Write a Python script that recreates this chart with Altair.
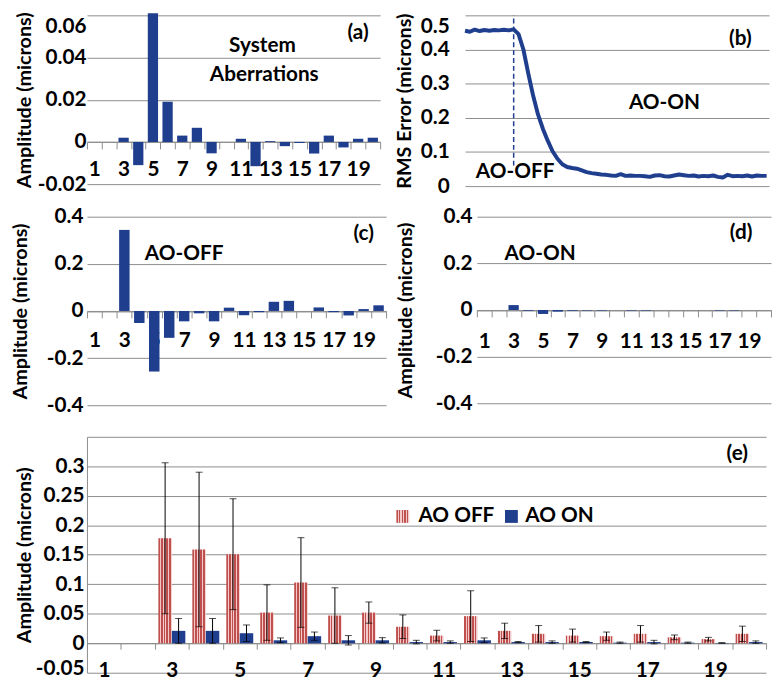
import altair as alt
import pandas as pd

# ---------------- data ----------------
zernike = list(range(1, 21))

# (a) system aberrations, microns
sys_aberr = [0, 0, 0.002, -0.011, 0.061, 0.019, 0.003, 0.0067, -0.0054, 0,
             0.0015, -0.0115, 0.0004, -0.002, -0.0005, -0.0055, 0.003, -0.0026, 0.0015, 0.002]
# (c) AO-OFF single measurement
ao_off_single = [0, 0, 0.344, -0.051, -0.257, -0.114, -0.044, -0.01, -0.044, 0.014,
                 -0.018, -0.005, 0.039, 0.043, 0, 0.015, -0.005, -0.019, 0.008, 0.024]
# (d) AO-ON single measurement
ao_on_single = [0, 0, 0.021, -0.003, -0.017, -0.007, -0.003, -0.002, -0.002, 0,
                -0.002, -0.002, 0, 0, 0, 0, -0.002, -0.002, 0, 0]
# (b) RMS error vs. iteration
rms_error = [0.455, 0.452, 0.458, 0.454, 0.457, 0.455, 0.457, 0.456, 0.458, 0.456,
             0.459, 0.445, 0.400, 0.330, 0.265, 0.210, 0.168, 0.133, 0.102, 0.080,
             0.064, 0.056, 0.053, 0.051, 0.046, 0.041, 0.038, 0.036, 0.034, 0.033,
             0.031, 0.030, 0.035, 0.030, 0.031, 0.030, 0.030, 0.029, 0.027, 0.031,
             0.032, 0.029, 0.028, 0.031, 0.034, 0.032, 0.030, 0.031, 0.028, 0.030,
             0.029, 0.031, 0.027, 0.025, 0.033, 0.029, 0.030, 0.029, 0.031, 0.028,
             0.031, 0.030, 0.030]
# (e) mean +/- sd
off_mean = [0, 0, 0.178, 0.159, 0.151, 0.052, 0.103, 0.047, 0.052, 0.028,
            0.013, 0.046, 0.021, 0.016, 0.013, 0.012, 0.016, 0.010, 0.007, 0.016]
off_sd = [0, 0, 0.128, 0.131, 0.094, 0.047, 0.076, 0.047, 0.018, 0.020,
          0.009, 0.043, 0.013, 0.014, 0.011, 0.007, 0.014, 0.004, 0.003, 0.013]
on_mean = [0, 0, 0.021, 0.021, 0.017, 0.005, 0.012, 0.005, 0.005, 0.002,
           0.002, 0.005, 0.002, 0.002, 0.002, 0.001, 0.002, 0.001, 0.0005, 0.002]
on_sd = [0, 0, 0.021, 0.021, 0.014, 0.004, 0.007, 0.008, 0.0045, 0.003,
         0.002, 0.004, 0.001, 0.002, 0.001, 0.001, 0.003, 0.001, 0.0005, 0.002]
series_names = ["AO OFF", "AO ON"]

# ---------------- style ----------------
FONT = "Lato"
LBL = 21
TTL = 20
BLUE = "#1f3e8e"
GRID = "#8c8c8c"
RED = "#c0504d"
PINK = "#f2c9c8"
ODD = "datum.value % 2 == 1 ? datum.label : ''"
NUM = "'' + datum.value"

stops = []
nstr = 5
for k in range(nstr):
    a = k / nstr
    b = (k + 0.6) / nstr
    c = (k + 1) / nstr
    stops += [alt.GradientStop(color=RED, offset=a), alt.GradientStop(color=RED, offset=b),
              alt.GradientStop(color=PINK, offset=b), alt.GradientStop(color=PINK, offset=c)]
HATCH = alt.LinearGradient(gradient="linear", stops=stops, x1=0, x2=1, y1=0, y2=0)


def top_base(vmax):
    return {"condition": {"test": f"datum.value >= {vmax}", "value": "top"}, "value": "middle"}


def note(X, Y, n, v, s, size=21, dx=0, align="center"):
    d = pd.DataFrame({"n": [n], "v": [v], "t": [s]})
    return alt.Chart(d).mark_text(font=FONT, fontSize=size, fontWeight="bold", color="black",
                                  align=align, baseline="middle", dx=dx).encode(x=X, y=Y, text="t:N")


def bar_panel(vals, ydom, yticks, w, h, xlabpad, ylabpad, titlepad, notes, flush_top=False):
    df = pd.DataFrame({"n": zernike, "v": vals, "z": [0] * len(vals)})
    y0 = h * ydom[1] / (ydom[1] - ydom[0])
    X = alt.X("n:O", scale=alt.Scale(domain=zernike, paddingInner=0, paddingOuter=0),
              axis=alt.Axis(title=None, tickBand="extent", labelExpr=ODD, labelAngle=0,
                            offset=y0 - h, tickSize=7, labelPadding=xlabpad, grid=False,
                            labelBaseline="top"))
    yax = dict(title="Amplitude (microns)", values=yticks, labelExpr=NUM, grid=True,
               domain=False, ticks=False, labelPadding=ylabpad, titlePadding=titlepad,
               labelOverlap=False)
    if flush_top:
        yax["labelBaseline"] = top_base(ydom[1] - 1e-6)
    Y = alt.Y("v:Q", scale=alt.Scale(domain=ydom, nice=False, zero=False), axis=alt.Axis(**yax))
    bars = alt.Chart(df).mark_bar(color=BLUE, width={"band": 0.7}).encode(x=X, y=Y, y2="z:Q")
    layers = [bars] + [note(X, Y, *nt[:3], **nt[3]) for nt in notes]
    return alt.layer(*layers).properties(width=w, height=h)


# (a)
pa = bar_panel(sys_aberr, [-0.02, 0.06], [-0.02, 0, 0.02, 0.04, 0.06], 297, 171, 10, 1, 3,
               [(12, 0.0456, "System", {"dx": 7}), (13, 0.0316, "Aberrations", {"dx": -6}),
                (19, 0.0516, "(a)", {})], flush_top=True)
# (c)
pc = bar_panel(ao_off_single, [-0.4, 0.4], [-0.4, -0.2, 0, 0.2, 0.4], 303, 191, 12, 4, 16,
               [(7, 0.243, "AO-OFF", {}), (19, 0.327, "(c)", {})])
# (d)
pd_ = bar_panel(ao_on_single, [-0.4, 0.4], [-0.4, -0.2, 0, 0.2, 0.4], 298, 189, 14, 5, 20,
                [(5, 0.24, "AO-ON", {"dx": -3}), (18, 0.33, "(d)", {"dx": 7})])

# (b)
dfb = pd.DataFrame({"i": list(range(len(rms_error))), "v": rms_error})
Xb = alt.X("i:Q", scale=alt.Scale(domain=[0, 62.5], nice=False, zero=False), axis=None)
Yb = alt.Y("v:Q", scale=alt.Scale(domain=[0, 0.5], nice=False),
           axis=alt.Axis(title="RMS Error  (microns)", values=[0, 0.1, 0.2, 0.3, 0.4, 0.5],
                         labelExpr=NUM, grid=True, domain=False, ticks=False, labelOverlap=False,
                         labelPadding=16, titlePadding=6, labelBaseline=top_base(0.4999)))
line_b = alt.Chart(dfb).mark_line(color=BLUE, strokeWidth=4, strokeJoin="round").encode(x=Xb, y=Yb)
dash_b = alt.Chart(pd.DataFrame({"i": [10], "v": [0.06], "v2": [0.5]})).mark_rule(
    color=BLUE, strokeWidth=1.5, strokeDash=[5, 3]).encode(x=Xb, y=Yb, y2="v2:Q")


def note_b(i, v, s, size=21):
    d = pd.DataFrame({"i": [i], "v": [v], "t": [s]})
    return alt.Chart(d).mark_text(font=FONT, fontSize=size, fontWeight="bold", color="black",
                                  baseline="middle").encode(x=Xb, y=Yb, text="t:N")


pb = alt.layer(dash_b, line_b, note_b(41, 0.243, "AO-ON"), note_b(10.3, 0.042, "AO-OFF"),
               note_b(56.6, 0.431, "(b)")).properties(width=308, height=173)

# (e)
rows = []
for n, m, s in zip(zernike, off_mean, off_sd):
    rows.append({"n": n, "s": "AO OFF", "m": m, "lo": m - s, "hi": m + s, "z": 0, "sd": s})
for n, m, s in zip(zernike, on_mean, on_sd):
    rows.append({"n": n, "s": "AO ON", "m": m, "lo": m - s, "hi": m + s, "z": 0, "sd": s})
dfe = pd.DataFrame(rows)
dfe_off = dfe[dfe.s == "AO OFF"]
dfe_on = dfe[dfe.s == "AO ON"]
dfe_err = dfe[dfe.sd > 0]
# error-bar tables keyed on the same y field "m" so every layer shares one y axis
err_span = pd.DataFrame({"n": dfe_err.n, "s": dfe_err.s, "m": dfe_err.lo, "hi": dfe_err.hi})
err_top = pd.DataFrame({"n": dfe_err.n, "s": dfe_err.s, "m": dfe_err.hi})
err_bot = pd.DataFrame({"n": dfe_err.n, "s": dfe_err.s, "m": dfe_err.lo})

he = 239
we = 688
Xe = alt.X("n:O", scale=alt.Scale(domain=zernike, paddingInner=0, paddingOuter=0),
           axis=alt.Axis(title=None, tickBand="extent", labelExpr=ODD, labelAngle=0,
                         offset=-he * 0.05 / 0.4, tickSize=6, labelPadding=11, grid=False,
                         labelBaseline="top"))
XO = alt.XOffset("s:N", scale=alt.Scale(domain=series_names, paddingOuter=0.26, paddingInner=0))
Ye = alt.Y("m:Q", scale=alt.Scale(domain=[-0.05, 0.35], nice=False, zero=False),
           axis=alt.Axis(title="Amplitude (microns)",
                         values=[-0.05, 0, 0.05, 0.1, 0.15, 0.2, 0.25, 0.3, 0.35],
                         labelExpr="datum.value > 0.34 ? '' : '' + datum.value",
                         labelOffset={"condition": {"test": "datum.value < -0.04", "value": -4},
                                      "value": 0},
                         grid=True, domain=True, ticks=False, labelPadding=3, titlePadding=1,
                         labelOverlap=False))

bars_off = alt.Chart(dfe_off).mark_bar(fill=HATCH).encode(x=Xe, xOffset=XO, y=Ye, y2="z:Q")
bars_on = alt.Chart(dfe_on).mark_bar(color=BLUE).encode(x=Xe, xOffset=XO, y=Ye, y2="z:Q")
err_rule = alt.Chart(err_span).mark_rule(color="black", strokeWidth=1).encode(
    x=Xe, xOffset=XO, y=Ye, y2="hi:Q")
cap_hi = alt.Chart(err_top).mark_tick(color="black", orient="horizontal", size=7, thickness=1).encode(
    x=Xe, xOffset=XO, y=Ye)
cap_lo = alt.Chart(err_bot).mark_tick(color="black", orient="horizontal", size=7, thickness=1).encode(
    x=Xe, xOffset=XO, y=Ye)


def note_e(n, v, s, dx=0, align="center", size=21):
    d = pd.DataFrame({"n": [n], "m": [v], "t": [s]})
    return alt.Chart(d).mark_text(font=FONT, fontSize=size, fontWeight="bold", color="black",
                                  align=align, baseline="middle", dx=dx).encode(x=Xe, y=Ye, text="t:N")


leg_off = alt.Chart(pd.DataFrame({"n": [10], "s": ["AO OFF"], "m": [0.215]})).mark_square(
    size=170, fill=HATCH, opacity=1).encode(x=Xe, xOffset=XO, y=Ye)
leg_on = alt.Chart(pd.DataFrame({"n": [13], "m": [0.215]})).mark_square(
    size=170, color=BLUE, opacity=1).encode(x=Xe, y=Ye)

pe = alt.layer(bars_off, bars_on, err_rule, cap_hi, cap_lo, leg_off, leg_on,
               note_e(10, 0.215, "AO OFF", dx=9, align="left"),
               note_e(13, 0.215, "AO ON", dx=14, align="left"),
               note_e(20, 0.321, "(e)", dx=-12)).properties(width=we, height=he)

row1 = alt.hconcat(pa, pb, spacing=13)
row2 = alt.hconcat(pc, pd_, spacing=8)
top = alt.vconcat(row1, row2, spacing=10)
chart = alt.vconcat(top, pe, spacing=11).properties(
    padding={"left": 2, "top": -2, "right": 0, "bottom": 0}).configure(
    font=FONT).configure_view(stroke=None).configure_axis(
    labelFont=FONT, labelFontSize=LBL, labelFontWeight="bold", labelColor="black",
    titleFont=FONT, titleFontSize=TTL, titleFontWeight="bold", titleColor="black",
    gridColor=GRID, domainColor=GRID, tickColor=GRID, gridWidth=1, labelOverlap=False)

chart.save("out.html", embed_options={"renderer": "svg", "actions": False})
